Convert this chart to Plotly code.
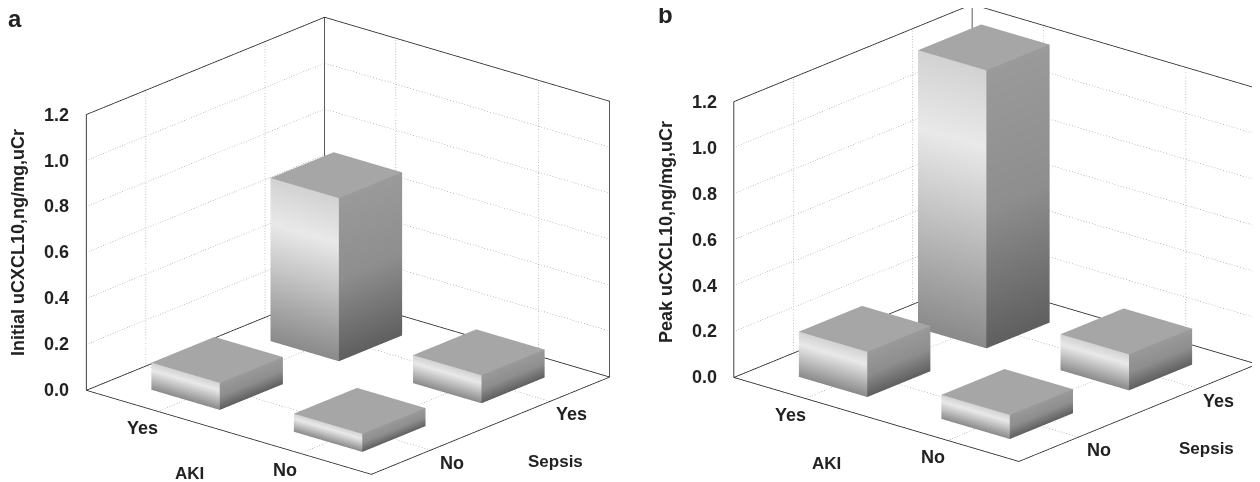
import plotly.graph_objects as go

aki_labels = ["Yes", "No"]
sepsis_labels = ["No", "Yes"]
z_ticks = [0.0, 0.2, 0.4, 0.6, 0.8, 1.0, 1.2]
# values[aki][sepsis]
initial_yes = [0.118, 0.71]   # AKI Yes: Sepsis No, Sepsis Yes
initial_no = [0.079, 0.122]   # AKI No: Sepsis No, Sepsis Yes
peak_yes = [0.197, 1.21]
peak_no = [0.105, 0.157]

FRAME = "#222222"
DOT = "#8a8a8a"
LIGHT = [(1.0, "#d2d2d2"), (0.72, "#e9e9e9"), (0.45, "#c6c6c6"), (0.2, "#a4a4a4"), (0.0, "#8a8a8a")]
DARK = [(1.0, "#9a9a9a"), (0.5, "#8e8e8e"), (0.0, "#5f5f5f")]
TOP = "#a6a6a6"
HALF_X, HALF_Y = 0.24, 0.265
FONT = "Liberation Sans"
Z_RANGE_MAX = 1.3


def bar_mesh(cx, cy, h, scene):
    xs, ys, zs, cols, i, j, k = [], [], [], [], [], [], []
    x0, x1, y0, y1 = cx - HALF_X, cx + HALF_X, cy - HALF_Y, cy + HALF_Y

    def quad(a, b, c, d):
        n = len(xs)
        for (px, py, pz, col) in (a, b, c, d):
            xs.append(px); ys.append(py); zs.append(pz); cols.append(col)
        i.extend([n, n]); j.extend([n + 1, n + 2]); k.extend([n + 2, n + 3])

    for stops, (ax, ay, bx, by) in ((LIGHT, (x0, y0, x1, y0)), (DARK, (x1, y0, x1, y1))):
        for (f1, c1), (f2, c2) in zip(stops[:-1], stops[1:]):
            quad((ax, ay, h * f1, c1), (bx, by, h * f1, c1), (bx, by, h * f2, c2), (ax, ay, h * f2, c2))
    quad((x0, y0, h, TOP), (x1, y0, h, TOP), (x1, y1, h, TOP), (x0, y1, h, TOP))
    return go.Mesh3d(x=xs, y=ys, z=zs, i=i, j=j, k=k, vertexcolor=cols, flatshading=True,
                     lighting=dict(ambient=1, diffuse=0, specular=0, fresnel=0, roughness=1),
                     hoverinfo="skip", showscale=False, scene=scene)


def line(xs, ys, zs, scene, dotted=False):
    return go.Scatter3d(x=xs, y=ys, z=zs, mode="lines", scene=scene, hoverinfo="skip", showlegend=False,
                        line=dict(color=DOT if dotted else FRAME, width=1 if dotted else 1.6,
                                  dash="dot" if dotted else "solid"))


def panel(fig, yes, no, scene):
    zmax = z_ticks[-1]
    xmax = ymax = len(aki_labels)
    fig.add_trace(line([0, xmax, xmax, 0, 0], [0, 0, ymax, ymax, 0], [0, 0, 0, 0, 0], scene))
    fig.add_trace(line([0, 0, xmax, xmax], [0, ymax, ymax, ymax], [zmax, zmax, zmax, 0], scene))
    fig.add_trace(line([0, 0], [0, 0], [0, zmax], scene))
    fig.add_trace(line([0, 0], [ymax, ymax], [0, zmax], scene))
    fig.add_trace(line([0, 0], [0, ymax], [zmax, zmax], scene))
    for t in z_ticks[1:-1]:
        fig.add_trace(line([0, 0, xmax], [0, ymax, ymax], [t, t, t], scene, True))
    for p in range(len(aki_labels)):
        c = p + 0.5
        fig.add_trace(line([c, c, c], [0, ymax, ymax], [0, 0, zmax], scene, True))
        fig.add_trace(line([xmax, 0, 0], [c, c, c], [0, 0, zmax], scene, True))
    for a, row in enumerate((yes, no)):
        for s, v in enumerate(row):
            fig.add_trace(bar_mesh(a + 0.5, s + 0.5, v, scene))
    anns = []
    tick_font = dict(family=FONT, size=18, color="#222222")
    for t in z_ticks:
        anns.append(dict(x=0, y=0, z=t, text=f"<b>{t:.1f}</b>", showarrow=False, xanchor="right", xshift=-15,
                         font=tick_font))
    for a, lab in enumerate(aki_labels):
        anns.append(dict(x=a + 0.5, y=0, z=0, text=f"<b>{lab}</b>", showarrow=False, xshift=-15, yshift=-17,
                         font=tick_font))
    for s, lab in enumerate(sepsis_labels):
        anns.append(dict(x=xmax, y=s + 0.5, z=0, text=f"<b>{lab}</b>", showarrow=False, xshift=21, yshift=-13,
                         font=tick_font))
    return anns


def scene_layout(domain_x, anns, center_z):
    hidden = dict(visible=False, showspikes=False)
    return dict(domain=dict(x=domain_x, y=[0, 1]), annotations=anns,
                xaxis=dict(range=[0, 2], **hidden), yaxis=dict(range=[0, 2], **hidden),
                zaxis=dict(range=[0, Z_RANGE_MAX], **hidden),
                aspectmode="manual", aspectratio=dict(x=1.552, y=1.527, z=1.3217),
                camera=dict(eye=dict(x=1.98, y=-2.33, z=1.131 + center_z), up=dict(x=0, y=0, z=1),
                            center=dict(x=0, y=0, z=center_z), projection=dict(type="orthographic")),
                bgcolor="white")


fig = go.Figure()
anns_a = panel(fig, initial_yes, initial_no, "scene")
anns_b = panel(fig, peak_yes, peak_no, "scene2")


def text(x, y, s, size=18, angle=0):
    return dict(x=(x - 8) / 1260, y=1 - (y - 8) / 482, xref="paper", yref="paper", text=f"<b>{s}</b>",
                showarrow=False, xanchor="center", yanchor="middle", textangle=angle,
                font=dict(family=FONT, size=size, color="#222222"))


fig.update_layout(
    width=1260, height=482, margin=dict(l=0, r=0, t=0, b=0), paper_bgcolor="white", showlegend=False,
    scene=scene_layout([0, 0.5396], anns_a, -0.065), scene2=scene_layout([0.5676, 1.0], anns_b, -0.122),
    annotations=[
        text(15, 18, "a", 24), text(665, 15, "b", 24),
        text(18, 243, "Initial uCXCL10,ng/mg,uCr", 18, -90),
        text(666, 232, "Peak uCXCL10,ng/mg,uCr", 18, -90),
        text(189, 473, "AKI", 17), text(555, 461, "Sepsis", 17),
        text(826, 463, "AKI", 17), text(1206, 448, "Sepsis", 17),
    ],
)
fig.write_html("out.html")
